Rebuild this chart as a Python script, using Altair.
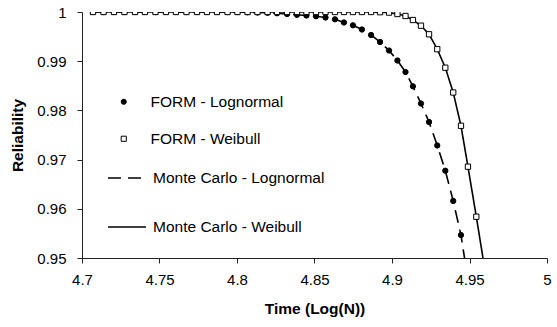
import altair as alt
import pandas as pd

# ---- data ----
time_form = [4.7071, 4.7139, 4.7206, 4.7274, 4.7342, 4.7406, 4.7474, 4.7542, 4.7606, 4.7674,
             4.7742, 4.7806, 4.7871, 4.7939, 4.8003, 4.8068, 4.8132, 4.8197, 4.8258, 4.8323,
             4.8387, 4.8448, 4.8510, 4.8571, 4.8632, 4.8690, 4.8748, 4.8806, 4.8865, 4.8923,
             4.8981, 4.9035, 4.9087, 4.9135, 4.9187, 4.9239, 4.9292, 4.9344, 4.9395, 4.9445,
             4.9490, 4.9544]
rel_form_weibull = [1.0, 1.0, 1.0, 1.0, 1.0, 1.0, 1.0, 1.0, 1.0, 1.0,
                    1.0, 1.0, 1.0, 1.0, 1.0, 1.0, 1.0, 1.0, 1.0, 1.0,
                    1.0, 1.0, 1.0, 1.0, 1.0, 1.0, 1.0, 1.0, 1.0, 0.99996,
                    0.99988, 0.99959, 0.99919, 0.99837, 0.99722, 0.99547, 0.99244, 0.98868, 0.98364, 0.97687,
                    0.96856, 0.95839]

time_form_lognormal = [4.7071, 4.7139, 4.7206, 4.7274, 4.7342, 4.7406, 4.7474, 4.7542, 4.7606, 4.7674,
                       4.7742, 4.7806, 4.7871, 4.7939, 4.8003, 4.8068, 4.8132, 4.8197, 4.8258, 4.8323,
                       4.8387, 4.8448, 4.8510, 4.8571, 4.8632, 4.8690, 4.8748, 4.8806, 4.8865, 4.8923,
                       4.8981, 4.9035, 4.9087, 4.9135, 4.9187, 4.9239, 4.9292, 4.9344, 4.9395, 4.9445]
rel_form_lognormal = [1.0, 1.0, 1.0, 1.0, 1.0, 1.0, 1.0, 1.0, 1.0, 1.0,
                      1.0, 1.0, 1.0, 1.0, 1.0, 0.99994, 0.99990, 0.99984, 0.99974, 0.99959,
                      0.99943, 0.99929, 0.99913, 0.99888, 0.99852, 0.99787, 0.99730, 0.99644, 0.99533, 0.99390,
                      0.99217, 0.99014, 0.98780, 0.98490, 0.98140, 0.97764, 0.97287, 0.96774, 0.96159, 0.95467]

time_mc_lognormal = [4.7071, 4.7139, 4.7206, 4.7274, 4.7342, 4.7406, 4.7474, 4.7542, 4.7606, 4.7674,
                     4.7742, 4.7806, 4.7871, 4.7939, 4.8003, 4.8068, 4.8132, 4.8197, 4.8258, 4.8323,
                     4.8387, 4.8448, 4.8510, 4.8571, 4.8632, 4.8690, 4.8748, 4.8806, 4.8865, 4.8923,
                     4.8981, 4.9035, 4.9087, 4.9135, 4.9187, 4.9239, 4.9292, 4.9344, 4.9395, 4.9445,
                     4.9468]
rel_mc_lognormal = [1.0, 1.0, 1.0, 1.0, 1.0, 1.0, 1.0, 1.0, 1.0, 1.0,
                    1.0, 1.0, 1.0, 1.0, 1.0, 0.99994, 0.99990, 0.99984, 0.99974, 0.99959,
                    0.99943, 0.99929, 0.99913, 0.99888, 0.99852, 0.99787, 0.99730, 0.99644, 0.99533, 0.99390,
                    0.99217, 0.99014, 0.98780, 0.98490, 0.98140, 0.97764, 0.97287, 0.96774, 0.96159, 0.95467,
                    0.95000]

time_mc_weibull = [4.7071, 4.7139, 4.7206, 4.7274, 4.7342, 4.7406, 4.7474, 4.7542, 4.7606, 4.7674,
                   4.7742, 4.7806, 4.7871, 4.7939, 4.8003, 4.8068, 4.8132, 4.8197, 4.8258, 4.8323,
                   4.8387, 4.8448, 4.8510, 4.8571, 4.8632, 4.8690, 4.8748, 4.8806, 4.8865, 4.8923,
                   4.8981, 4.9035, 4.9087, 4.9135, 4.9187, 4.9239, 4.9292, 4.9344, 4.9395, 4.9445,
                   4.9490, 4.9544, 4.9587]
rel_mc_weibull = [1.0, 1.0, 1.0, 1.0, 1.0, 1.0, 1.0, 1.0, 1.0, 1.0,
                  1.0, 1.0, 1.0, 1.0, 1.0, 1.0, 1.0, 1.0, 1.0, 1.0,
                  1.0, 1.0, 1.0, 1.0, 1.0, 1.0, 1.0, 1.0, 1.0, 0.99996,
                  0.99988, 0.99959, 0.99919, 0.99837, 0.99722, 0.99547, 0.99244, 0.98868, 0.98364, 0.97687,
                  0.96856, 0.95839, 0.95000]

form_names = ["FORM - Lognormal", "FORM - Weibull"]
mc_names = ["Monte Carlo - Lognormal", "Monte Carlo - Weibull"]
x_ticks = [4.7, 4.75, 4.8, 4.85, 4.9, 4.95, 5.0]
y_ticks = [0.95, 0.96, 0.97, 0.98, 0.99, 1.0]

form_df = pd.concat([
    pd.DataFrame({"time": time_form_lognormal, "rel": rel_form_lognormal, "series": form_names[0]}),
    pd.DataFrame({"time": time_form, "rel": rel_form_weibull, "series": form_names[1]}),
])
mc_df = pd.concat([
    pd.DataFrame({"time": time_mc_lognormal, "rel": rel_mc_lognormal, "series": mc_names[0]}),
    pd.DataFrame({"time": time_mc_weibull, "rel": rel_mc_weibull, "series": mc_names[1]}),
])

FONT = "Liberation Sans"

x_enc = alt.X("time:Q", title="Time (Log(N))",
              scale=alt.Scale(domain=[4.7, 5.0], nice=False, zero=False),
              axis=alt.Axis(values=x_ticks, format="~g", tickSize=5, labelPadding=9,
                            labelFlush=False, titleY=55, titleBaseline="alphabetic"))
y_enc = alt.Y("rel:Q", title="Reliability",
              scale=alt.Scale(domain=[0.95, 1.0], nice=False, zero=False),
              axis=alt.Axis(values=y_ticks, format="~g", tickSize=5, labelPadding=11,
                            labelFlush=False, titleX=-60, titleBaseline="alphabetic"))

mc_legend = alt.Legend(title=None, orient="none", legendX=25, legendY=146,
                       symbolType="stroke", symbolSize=1444, symbolStrokeColor="black",
                       symbolStrokeWidth=1.6, labelOffset=6, rowPadding=20, labelLimit=400,
                       labelFontSize=15.5, labelFont=FONT, labelColor="black")
form_legend = alt.Legend(title=None, orient="none", legendX=34, legendY=82,
                         symbolSize=26, symbolStrokeColor="black", symbolStrokeWidth=1,
                         labelOffset=19, rowPadding=20, labelLimit=400,
                         labelFontSize=15.5, labelFont=FONT, labelColor="black")

lines = alt.Chart(mc_df).mark_line(strokeWidth=1.6, color="black", clip=True).encode(
    x=x_enc, y=y_enc,
    strokeDash=alt.StrokeDash("series:N",
                              scale=alt.Scale(domain=mc_names, range=[[13, 7], [1, 0]]),
                              legend=mc_legend),
)

points = alt.Chart(form_df).mark_point(filled=True, strokeWidth=1,
                                       size=28, opacity=1, clip=True).encode(
    x=x_enc, y=y_enc,
    shape=alt.Shape("series:N", scale=alt.Scale(domain=form_names, range=["circle", "square"]),
                    legend=form_legend),
    fill=alt.Fill("series:N", scale=alt.Scale(domain=form_names, range=["black", "white"]),
                  legend=form_legend),
    stroke=alt.Stroke("series:N", scale=alt.Scale(domain=form_names, range=["black", "black"]),
                      legend=form_legend),
)

chart = alt.layer(lines, points).resolve_scale(
    strokeDash="independent", shape="independent", fill="independent", stroke="independent"
).properties(
    width=465, height=246,
    autosize=alt.AutoSizeParams(type="none"),
    padding={"left": 82, "top": 12, "right": 10, "bottom": 69},
).configure_view(stroke=None).configure_axis(
    grid=False, domainColor="#222", tickColor="#222", labelColor="black", titleColor="black",
    labelFont=FONT, titleFont=FONT, labelFontSize=15, titleFontSize=15.5, titleFontWeight="bold",
    domainWidth=1, tickWidth=1,
)

chart.save("out.html", embed_options={"renderer": "svg", "actions": False})
